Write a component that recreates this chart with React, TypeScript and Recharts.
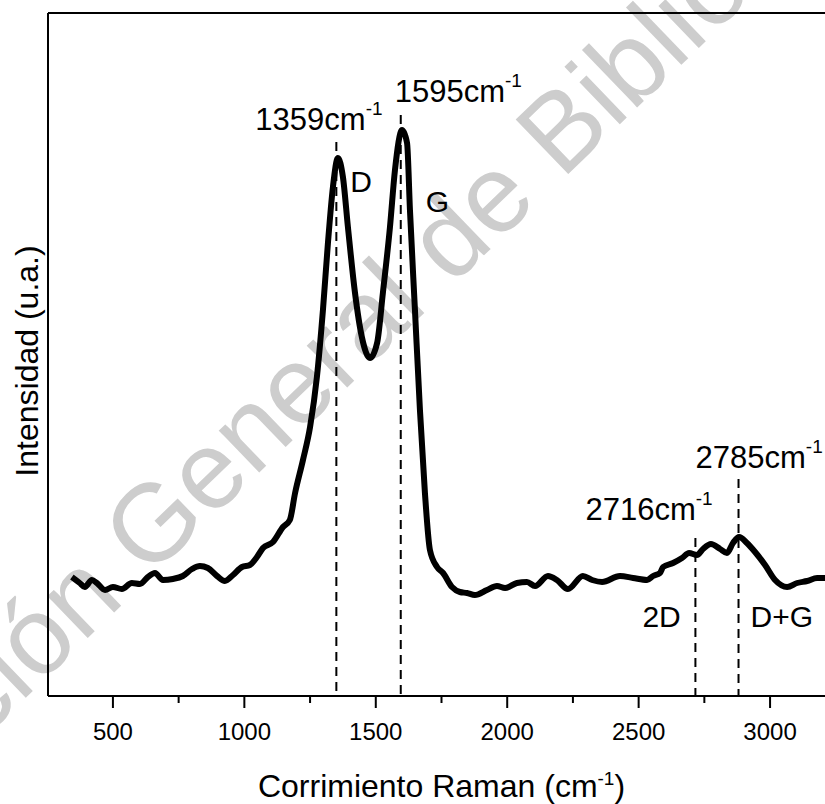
import React from "react";
import { LineChart, Line, XAxis, YAxis, ReferenceLine } from "recharts";

// Raman shift (cm-1) and intensity (a.u.)
const ramanShift = [
  344, 374, 393, 420, 439, 470, 500, 534, 572, 603, 633, 660, 690, 728, 766,
  801, 831, 861, 896, 926, 957, 991, 1021, 1048, 1071, 1109, 1147, 1173, 1193,
  1223, 1250, 1276, 1299, 1318, 1337, 1356, 1375, 1394, 1421, 1447, 1478, 1505,
  1527, 1554, 1573, 1600, 1619, 1630, 1649, 1668, 1687, 1706, 1733, 1756, 1790,
  1820, 1847, 1877, 1923, 1961, 1992, 2037, 2075, 2106, 2155, 2189, 2231, 2288,
  2323, 2361, 2429, 2479, 2532, 2555, 2581, 2593, 2631, 2665, 2692, 2722, 2745,
  2775, 2810, 2836, 2859, 2882, 2912, 2943, 2981, 3019, 3065, 3103, 3141, 3179,
  3209,
];
const intensity = [
  119, 113, 109, 116, 113, 106, 109, 107, 113, 112, 119, 123, 116, 117, 120,
  127, 130, 128, 120, 115, 121, 129, 131, 139, 148, 154, 169, 176, 203, 236,
  269, 319, 386, 453, 509, 538, 519, 469, 403, 359, 338, 353, 403, 469, 526,
  566, 553, 486, 386, 286, 203, 146, 129, 123, 109, 104, 103, 101, 106, 110,
  108, 113, 114, 110, 120, 116, 107, 120, 116, 114, 120, 118, 116, 120, 123,
  129, 133, 138, 143, 141, 147, 152, 147, 143, 153, 159, 153, 144, 131, 116,
  109, 113, 115, 118, 118,
];

const majorTicks = [500, 1000, 1500, 2000, 2500, 3000];
const minorTicks = [750, 1250, 1750, 2250, 2750];

// marker lines: where they are drawn, the value written, the band name, how high they reach
const peakPositions = [1350, 1595, 2716, 2880];
const peakLabels = ["1359", "1595", "2716", "2785"];
const bandNames = ["D", "G", "2D", "D+G"];
const markerTops = [554, 581, 158, 217];

// text placement relative to the top of each marker line
const labelLayout = [
  { vx: -81, vy: -12, bx: 14, by: 50 },
  { vx: -6, vy: -13, bx: 25, by: 97 },
  { vx: -110, vy: -18, bx: -53, by: 89 },
  { vx: -43, vy: -11, bx: 12, by: 148 },
];

const data = ramanShift.map((x, i) => ({ x, y: intensity[i] }));
const FONT = '"Liberation Sans", Arial, Helvetica, sans-serif';

const AxisTick = (props: any) => {
  const { x, y, payload } = props;
  const major = majorTicks.includes(payload.value);
  return (
    <g>
      <line x1={x} y1={y} x2={x} y2={y + (major ? 12 : 7)} stroke="#000" strokeWidth={2} />
      {major && (
        <text x={x} y={y + 44} textAnchor="middle" fontSize={24} fontFamily={FONT} fill="#000">
          {payload.value}
        </text>
      )}
    </g>
  );
};

const peakLabel = (i: number) => (props: any) => {
  const { viewBox } = props;
  const lx = viewBox.x;
  const ty = viewBox.y;
  const l = labelLayout[i];
  return (
    <g fontFamily={FONT} fill="#000">
      <text x={lx + l.vx} y={ty + l.vy} fontSize={31}>
        <tspan>{peakLabels[i]}cm</tspan>
        <tspan dy={-15} fontSize={19}>-1</tspan>
      </text>
      <text x={lx + l.bx} y={ty + l.by} fontSize={30}>
        {bandNames[i]}
      </text>
    </g>
  );
};

export default function App() {
  return (
    <div
      style={{
        position: "absolute",
        left: 0,
        top: 0,
        width: 825,
        height: 804,
        overflow: "hidden",
        background: "#fff",
      }}
    >
      {/* watermark and y title sit behind the plot */}
      <svg width={825} height={804} style={{ position: "absolute", left: 0, top: 0 }}>
        <text
          x={315}
          y={365}
          textAnchor="middle"
          dominantBaseline="central"
          fontSize={110}
          fontFamily={FONT}
          fill="#cdcdcd"
          transform="rotate(-44 315 365)"
        >
          Colección General de Biblioteca
        </text>
        <text
          x={38}
          y={361}
          textAnchor="middle"
          fontSize={32}
          fontFamily={FONT}
          fill="#000"
          transform="rotate(-90 38 361)"
        >
          Intensidad (u.a.)
        </text>
      </svg>
      <div style={{ position: "absolute", left: 0, top: 0 }}>
        <LineChart
          width={825}
          height={804}
          data={data}
          margin={{ top: 13, right: 0, bottom: 48, left: 48 }}
        >
          <XAxis
            dataKey="x"
            type="number"
            domain={[253, 3209]}
            allowDataOverflow
            ticks={[...majorTicks, ...minorTicks].sort((a, b) => a - b)}
            interval={0}
            height={60}
            tickSize={0}
            tickMargin={0}
            tickLine={false}
            axisLine={{ stroke: "#000", strokeWidth: 2 }}
            tick={<AxisTick />}
            label={(props: any) => {
              const vb = props.viewBox;
              return (
                <text
                  x={vb.x + vb.width / 2 + 5}
                  y={vb.y + 101}
                  textAnchor="middle"
                  fontSize={32}
                  fontFamily={FONT}
                  fill="#000"
                >
                  <tspan>Corrimiento Raman (cm</tspan>
                  <tspan dy={-12} fontSize={19}>-1</tspan>
                  <tspan dy={12}>)</tspan>
                </text>
              );
            }}
          />
          <YAxis type="number" domain={[0, 683]} hide />
          <ReferenceLine y={683} stroke="#000" strokeWidth={2} />
          <ReferenceLine x={253} stroke="#000" strokeWidth={2} />
          {peakPositions.map((p, i) => (
            <ReferenceLine
              key={p}
              segment={[
                { x: p, y: markerTops[i] },
                { x: p, y: 0 },
              ]}
              stroke="#000"
              strokeWidth={2}
              strokeDasharray="9 6"
              label={peakLabel(i)}
            />
          ))}
          <Line
            type="monotone"
            dataKey="y"
            stroke="#000"
            strokeWidth={6}
            dot={false}
            isAnimationActive={false}
          />
        </LineChart>
      </div>
    </div>
  );
}
